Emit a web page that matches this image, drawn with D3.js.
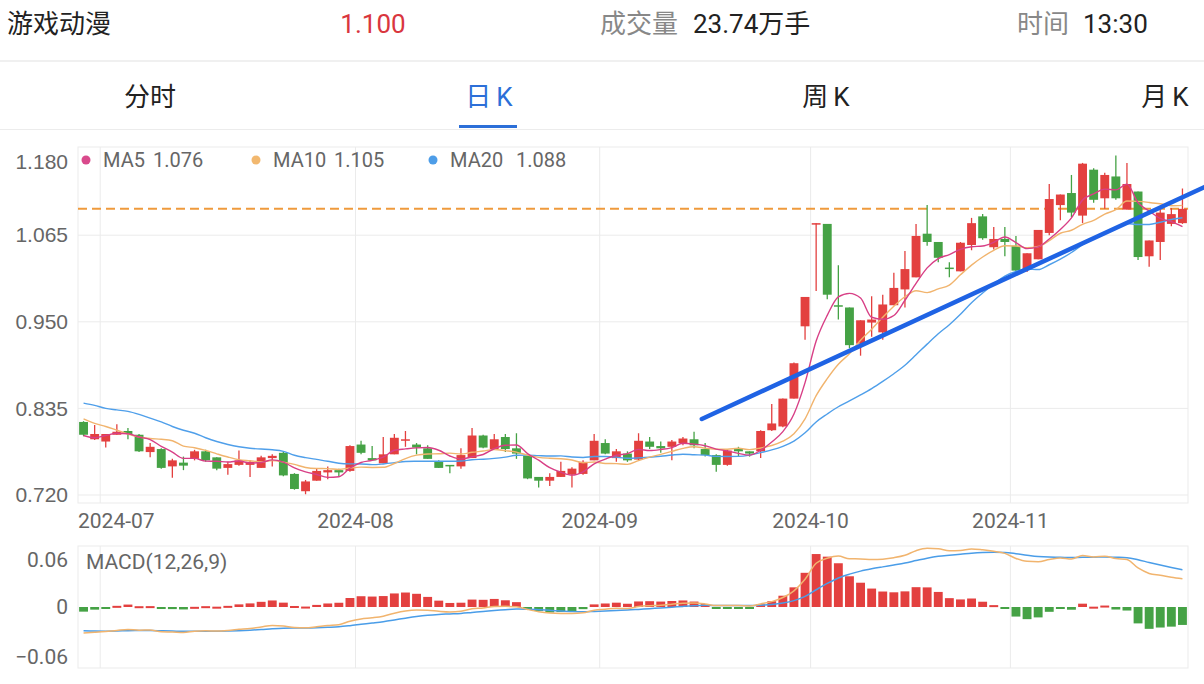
<!DOCTYPE html>
<html>
<head>
<meta charset="utf-8">
<script src="https://cdn.jsdelivr.net/npm/d3@7"></script>
<style>
  body { margin: 0; background: #fff; }
  svg { display: block; font-family: Roboto, 'Noto Sans CJK SC', sans-serif; }
</style>
</head>
<body>
<svg id="kline-svg" width="1204" height="684"></svg>
<script>
// daily bars, 2024-06-27 .. 2024-11-22
const monthLabels = ['2024-07', '2024-08', '2024-09', '2024-10', '2024-11'];
const monthStartIndex = [2, 25, 47, 66, 84];

const openPrices = [
  0.817, 0.794, 0.791, 0.800, 0.805, 0.800, 0.777, 0.781, 0.758, 0.763,
  0.768, 0.778, 0.770, 0.756, 0.760, 0.760, 0.756, 0.769, 0.776, 0.748,
  0.725, 0.739, 0.750, 0.753, 0.752, 0.787, 0.769, 0.762, 0.774, 0.792,
  0.787, 0.782, 0.764, 0.760, 0.758, 0.769, 0.799, 0.781, 0.797, 0.782,
  0.772, 0.744, 0.739, 0.744, 0.747, 0.748, 0.766, 0.789, 0.769, 0.775,
  0.767, 0.791, 0.785, 0.784, 0.789, 0.794, 0.781, 0.773, 0.760, 0.782,
  0.778, 0.778, 0.806, 0.811, 0.848, 0.944, 1.079, 1.080, 0.972, 0.969,
  0.921, 0.949, 0.936, 0.972, 0.993, 1.009, 1.067, 1.056, 1.022, 1.017,
  1.052, 1.090, 1.049, 1.060, 1.051, 1.019, 1.033, 1.068, 1.105, 1.121,
  1.091, 1.152, 1.114, 1.143, 1.099, 1.123, 1.037, 1.056, 1.080, 1.081
];
const highPrices = [
  0.818, 0.813, 0.801, 0.814, 0.809, 0.801, 0.789, 0.782, 0.768, 0.771,
  0.780, 0.780, 0.770, 0.764, 0.779, 0.766, 0.772, 0.774, 0.777, 0.749,
  0.740, 0.756, 0.758, 0.755, 0.786, 0.792, 0.785, 0.797, 0.801, 0.805,
  0.789, 0.786, 0.766, 0.760, 0.782, 0.809, 0.800, 0.801, 0.801, 0.802,
  0.772, 0.744, 0.749, 0.764, 0.757, 0.766, 0.801, 0.794, 0.781, 0.778,
  0.802, 0.797, 0.791, 0.793, 0.797, 0.804, 0.789, 0.774, 0.780, 0.784,
  0.778, 0.806, 0.841, 0.848, 0.896, 0.983, 1.081, 1.080, 1.025, 0.969,
  0.952, 0.984, 0.986, 1.015, 1.044, 1.080, 1.105, 1.056, 1.029, 1.056,
  1.088, 1.093, 1.076, 1.076, 1.064, 1.041, 1.072, 1.133, 1.119, 1.145,
  1.161, 1.154, 1.148, 1.171, 1.161, 1.123, 1.058, 1.099, 1.101, 1.127
];
const lowPrices = [
  0.798, 0.793, 0.783, 0.800, 0.794, 0.777, 0.770, 0.755, 0.743, 0.753,
  0.766, 0.764, 0.753, 0.747, 0.759, 0.744, 0.756, 0.758, 0.745, 0.727,
  0.721, 0.739, 0.741, 0.744, 0.751, 0.774, 0.766, 0.762, 0.774, 0.784,
  0.774, 0.768, 0.756, 0.749, 0.755, 0.769, 0.782, 0.780, 0.777, 0.768,
  0.741, 0.730, 0.732, 0.744, 0.730, 0.747, 0.766, 0.774, 0.764, 0.764,
  0.766, 0.781, 0.776, 0.766, 0.786, 0.782, 0.771, 0.751, 0.759, 0.771,
  0.771, 0.769, 0.805, 0.810, 0.848, 0.926, 0.991, 0.980, 0.953, 0.915,
  0.905, 0.930, 0.926, 0.972, 0.969, 1.009, 1.051, 1.029, 1.009, 1.017,
  1.045, 1.059, 1.046, 1.037, 1.017, 1.016, 1.033, 1.065, 1.085, 1.089,
  1.081, 1.108, 1.100, 1.112, 1.099, 1.032, 1.023, 1.032, 1.077, 1.080
];
const closePrices = [
  0.800, 0.801, 0.801, 0.804, 0.801, 0.778, 0.784, 0.756, 0.766, 0.759,
  0.778, 0.766, 0.755, 0.761, 0.766, 0.764, 0.770, 0.772, 0.746, 0.728,
  0.738, 0.752, 0.753, 0.750, 0.785, 0.776, 0.766, 0.774, 0.796, 0.794,
  0.783, 0.768, 0.756, 0.758, 0.773, 0.799, 0.783, 0.794, 0.781, 0.775,
  0.742, 0.739, 0.744, 0.752, 0.755, 0.764, 0.792, 0.775, 0.778, 0.766,
  0.792, 0.784, 0.782, 0.791, 0.795, 0.786, 0.773, 0.760, 0.779, 0.778,
  0.775, 0.805, 0.815, 0.848, 0.895, 0.983, 1.081, 0.986, 0.970, 0.919,
  0.952, 0.953, 0.973, 0.995, 1.020, 1.064, 1.056, 1.035, 1.021, 1.055,
  1.081, 1.061, 1.060, 1.056, 1.018, 1.041, 1.072, 1.113, 1.119, 1.095,
  1.160, 1.112, 1.145, 1.114, 1.133, 1.036, 1.058, 1.095, 1.093, 1.100
];

// moving-average values before enough bars exist
const ma5Head = [0.799, 0.796, 0.799, 0.802];
const ma10Head = [0.821, 0.815, 0.811, 0.806, 0.801, 0.797, 0.795, 0.794, 0.792];
const ma20Head = [
  0.842, 0.839, 0.835, 0.833, 0.831, 0.827, 0.822, 0.817, 0.811, 0.806,
  0.802, 0.796, 0.791, 0.787, 0.784, 0.782, 0.781, 0.780, 0.778
];
const macdSeed = { ema12: 0.818, ema26: 0.846, dea: -0.0255 };

const priceTicks = [1.18, 1.065, 0.95, 0.835, 0.72];
const macdTicks = [0.06, 0, -0.06];
const trendLine = [{ i: 55.7, p: 0.821 }, { i: 101, p: 1.129 }];
const tabs = [['分时', ''], ['日', 'K'], ['周', 'K'], ['月', 'K']];

const RED = '#e3403f';
const GREEN = '#45a245';
const GRID = '#ebebeb';
const LABEL = '#666';

const svg = d3.select('#kline-svg');
const n = closePrices.length;

const movingAverage = (period, head) =>
  closePrices.map((c, i) =>
    i < period - 1 ? head[i] : d3.mean(closePrices.slice(i - period + 1, i + 1))
  );
const ma5 = movingAverage(5, ma5Head);
const ma10 = movingAverage(10, ma10Head);
const ma20 = movingAverage(20, ma20Head);

const macd = [];
let e12 = macdSeed.ema12;
let e26 = macdSeed.ema26;
let dea = macdSeed.dea;
closePrices.forEach((c, i) => {
  if (i > 0) {
    e12 += ((c - e12) * 2) / 13;
    e26 += ((c - e26) * 2) / 27;
  }
  const dif = e12 - e26;
  if (i > 0) dea += ((dif - dea) * 2) / 10;
  macd.push({ dif, dea, hist: 2 * (dif - dea) });
});

// ---- header ----
const header = svg.append('g').attr('font-size', 26).attr('dominant-baseline', 'central');
header.append('text').attr('x', 7).attr('y', 24).attr('fill', '#222').text('游戏动漫');
header.append('text').attr('x', 373).attr('y', 24).attr('text-anchor', 'middle')
  .attr('fill', '#d9363e').text(d3.format('.3f')(closePrices[n - 1]));
header.append('text').attr('x', 600).attr('y', 24).attr('fill', '#888').text('成交量');
header.append('text').attr('x', 693).attr('y', 24).attr('fill', '#222').text('23.74万手');
header.append('text').attr('x', 1017).attr('y', 24).attr('fill', '#888').text('时间');
header.append('text').attr('x', 1083).attr('y', 24).attr('fill', '#222').text('13:30');

svg.append('rect').attr('x', 0).attr('y', 60).attr('width', 1204).attr('height', 2).attr('fill', '#f0f0f0');
svg.append('rect').attr('x', 0).attr('y', 129).attr('width', 1204).attr('height', 1).attr('fill', '#ececec');

const tabX = [150, 489, 826, 1165];
const tabText = svg.append('g')
  .selectAll('text')
  .data(tabs)
  .join('text')
  .attr('x', (d, i) => tabX[i])
  .attr('y', 97)
  .attr('text-anchor', 'middle')
  .attr('dominant-baseline', 'central')
  .attr('font-size', 26)
  .attr('fill', (d, i) => (i === 1 ? '#2c6fd8' : '#222'));
tabText.append('tspan').text((d) => d[0]);
tabText.append('tspan').attr('dx', (d) => (d[1] ? 5 : 0)).text((d) => d[1]);
svg.append('rect').attr('x', 459).attr('y', 125).attr('width', 58).attr('height', 3).attr('fill', '#2c6fd8');

// ---- scales ----
const left = 78;
const right = 1188;
const x = d3.scaleBand().domain(d3.range(n)).range([left, right]).paddingInner(0.2).paddingOuter(0.1);
const cx = (i) => x(i) + x.bandwidth() / 2;
const xIdx = d3.scaleLinear().domain([-0.5, n - 0.5]).range([left, right]);
const edgeX = (i) => left + i * x.step();

const y = d3.scaleLinear().domain([0.72, 1.18]).range([495, 148.6]);
const macdMax = d3.max(macd, (d) => Math.max(Math.abs(d.dif), Math.abs(d.dea), Math.abs(d.hist))) * 1.04;
const yM = d3.scaleLinear().domain([-macdMax, macdMax]).range([668, 546]);

// ---- price panel ----
const price = svg.append('g');
price.append('rect').attr('x', left).attr('y', 147).attr('width', right - left).attr('height', 356)
  .attr('fill', 'none').attr('stroke', GRID);
price.selectAll('line.h').data(priceTicks.slice(1)).join('line').attr('class', 'h')
  .attr('x1', left).attr('x2', right).attr('y1', (d) => y(d)).attr('y2', (d) => y(d))
  .attr('stroke', GRID);
price.selectAll('line.v').data(monthStartIndex).join('line').attr('class', 'v')
  .attr('x1', edgeX).attr('x2', edgeX).attr('y1', 147).attr('y2', 503).attr('stroke', GRID);

price.append('g')
  .attr('transform', 'translate(68,0)')
  .call(d3.axisLeft(y).tickValues(priceTicks).tickFormat(d3.format('.3f')).tickSize(0).tickPadding(0))
  .call((g) => g.select('.domain').remove())
  .call((g) => g.selectAll('text').attr('font-size', 21).attr('fill', LABEL).attr('font-family', null)
    .attr('dy', (d) => (d === 1.18 ? '0.95em' : '0.32em')));

const monthText = svg.append('g').selectAll('text').data(monthLabels).join('text')
  .attr('y', 521).attr('dominant-baseline', 'central').attr('font-size', 21).attr('fill', LABEL)
  .attr('text-anchor', 'middle').text((d) => d);
monthText.attr('x', function (d, i) {
  const w = this.getComputedTextLength();
  return Math.max(edgeX(monthStartIndex[i]), left + w / 2);
});

// dashed last price line
price.append('line')
  .attr('x1', left).attr('x2', right)
  .attr('y1', y(closePrices[n - 1])).attr('y2', y(closePrices[n - 1]))
  .attr('stroke', '#ef9a3c').attr('stroke-width', 2).attr('stroke-dasharray', '9,5');

const candles = price.append('g').selectAll('g').data(d3.range(n)).join('g')
  .attr('fill', (i) => (closePrices[i] >= openPrices[i] ? RED : GREEN))
  .attr('stroke', (i) => (closePrices[i] >= openPrices[i] ? RED : GREEN));
candles.append('line')
  .attr('x1', cx).attr('x2', cx)
  .attr('y1', (i) => y(highPrices[i])).attr('y2', (i) => y(lowPrices[i]))
  .attr('stroke-width', 1.3);
candles.append('rect')
  .attr('x', (i) => x(i))
  .attr('width', x.bandwidth())
  .attr('y', (i) => y(Math.max(openPrices[i], closePrices[i])))
  .attr('height', (i) => Math.max(1.5, Math.abs(y(openPrices[i]) - y(closePrices[i]))))
  .attr('stroke', 'none');

const maLine = d3.line().x((d, i) => cx(i)).y((d) => y(d)).curve(d3.curveMonotoneX);
[[ma20, '#4f9fea'], [ma10, '#f1b46e'], [ma5, '#d83f86']].forEach(([series, color]) => {
  price.append('path').attr('d', maLine(series)).attr('fill', 'none')
    .attr('stroke', color).attr('stroke-width', 1.4);
});

price.append('line')
  .attr('x1', xIdx(trendLine[0].i)).attr('y1', y(trendLine[0].p))
  .attr('x2', xIdx(trendLine[1].i)).attr('y2', y(trendLine[1].p))
  .attr('stroke', '#1f63e4').attr('stroke-width', 4.5).attr('stroke-linecap', 'round');

// legend
const legend = [
  { name: 'MA5', value: ma5[n - 1], color: '#d94a8c', dot: 86, tx: 103, vx: 153 },
  { name: 'MA10', value: ma10[n - 1], color: '#f2b86f', dot: 256, tx: 273, vx: 334 },
  { name: 'MA20', value: ma20[n - 1], color: '#4d9de8', dot: 433, tx: 450, vx: 516 },
];
const lg = svg.append('g').selectAll('g').data(legend).join('g');
lg.append('circle').attr('cx', (d) => d.dot).attr('cy', 160).attr('r', 4.5).attr('fill', (d) => d.color);
lg.append('text').attr('x', (d) => d.tx).attr('y', 160).attr('dominant-baseline', 'central')
  .attr('font-size', 20).attr('fill', LABEL).text((d) => d.name);
lg.append('text').attr('x', (d) => d.vx).attr('y', 160).attr('dominant-baseline', 'central')
  .attr('font-size', 20).attr('fill', LABEL).text((d) => d3.format('.3f')(d.value));

// ---- MACD panel ----
const mp = svg.append('g');
mp.append('rect').attr('x', left).attr('y', 546).attr('width', right - left).attr('height', 122)
  .attr('fill', 'none').attr('stroke', GRID);
mp.selectAll('line.v').data(monthStartIndex).join('line').attr('class', 'v')
  .attr('x1', edgeX).attr('x2', edgeX).attr('y1', 546).attr('y2', 668).attr('stroke', GRID);

mp.append('g').selectAll('text').data(macdTicks).join('text')
  .attr('x', 68).attr('text-anchor', 'end').attr('dominant-baseline', 'central')
  .attr('y', (d) => (d > 0 ? 560 : d < 0 ? 657 : yM(d)))
  .attr('font-size', 21).attr('fill', LABEL)
  .text((d) => (d === 0 ? '0' : d3.format('.2f')(d)));

mp.append('g').selectAll('rect').data(macd).join('rect')
  .attr('x', (d, i) => x(i))
  .attr('width', x.bandwidth())
  .attr('y', (d) => yM(Math.max(0, d.hist)))
  .attr('height', (d) => Math.max(2, Math.abs(yM(d.hist) - yM(0))))
  .attr('fill', (d) => (d.hist >= 0 ? RED : GREEN));

const macdLine = (key) => d3.line().x((d, i) => cx(i)).y((d) => yM(d[key])).curve(d3.curveMonotoneX);
mp.append('path').attr('d', macdLine('dea')(macd)).attr('fill', 'none').attr('stroke', '#4a9de8').attr('stroke-width', 1.5);
mp.append('path').attr('d', macdLine('dif')(macd)).attr('fill', 'none').attr('stroke', '#f1b46e').attr('stroke-width', 1.5);

mp.append('text').attr('x', 86).attr('y', 562).attr('dominant-baseline', 'central')
  .attr('font-size', 21).attr('fill', LABEL).text('MACD(12,26,9)');
</script>
</body>
</html>
